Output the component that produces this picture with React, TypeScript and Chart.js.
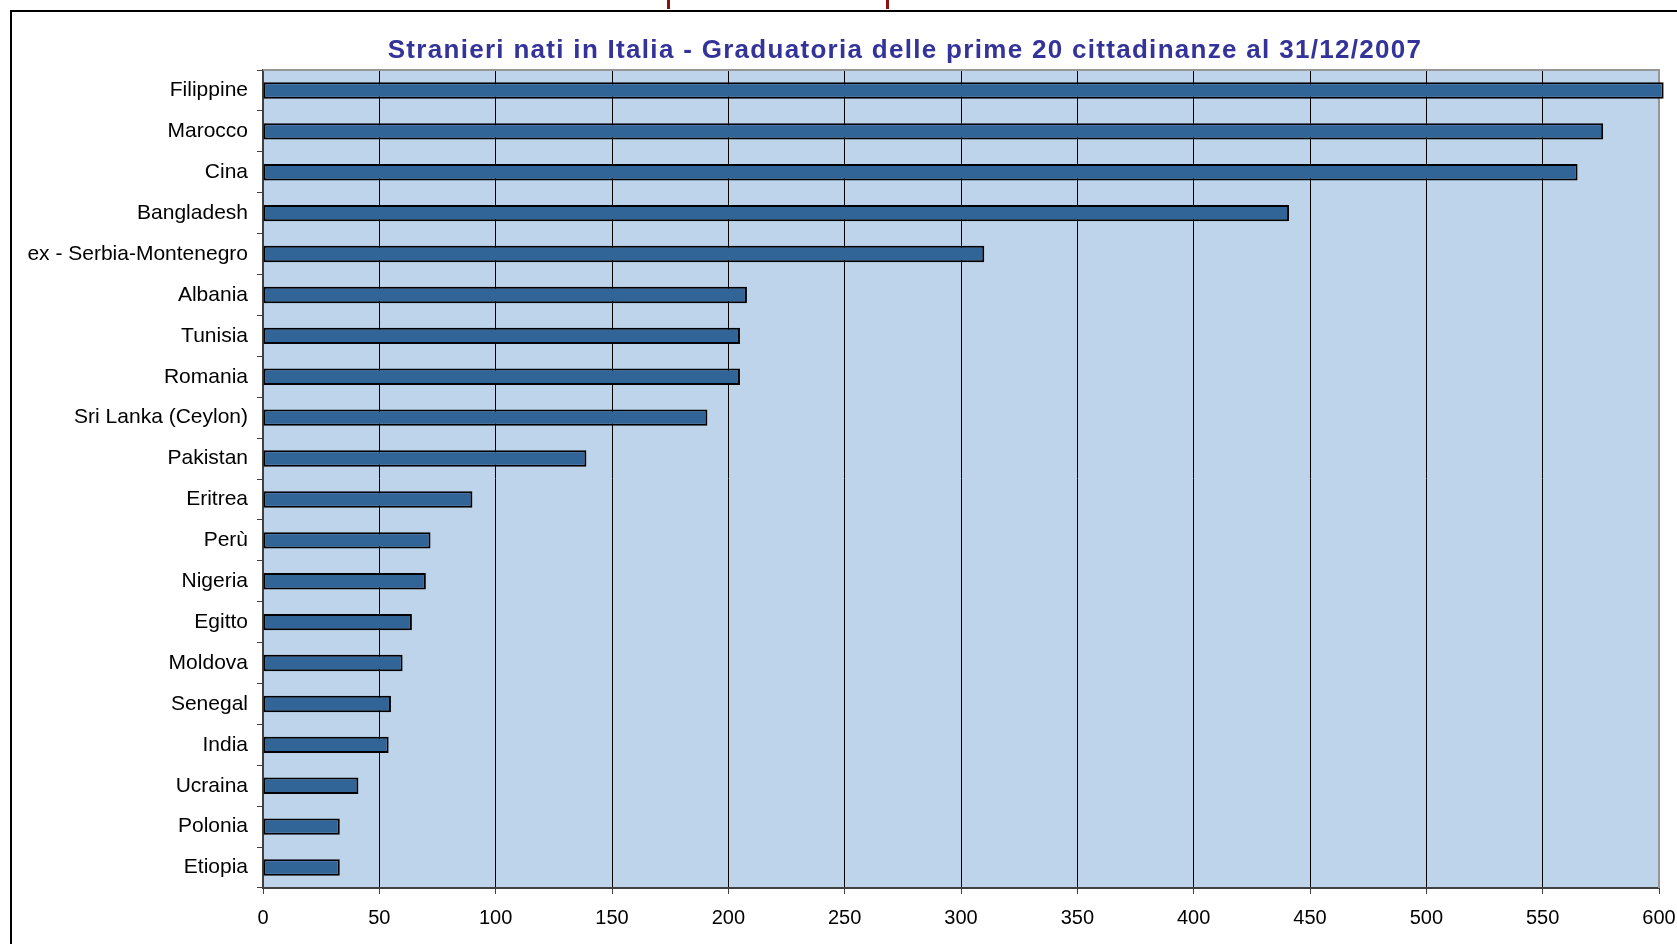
import React, { useEffect, useRef } from "react";
import { Chart, registerables } from "chart.js";

Chart.register(...registerables);

const categories = [
  "Filippine",
  "Marocco",
  "Cina",
  "Bangladesh",
  "ex - Serbia-Montenegro",
  "Albania",
  "Tunisia",
  "Romania",
  "Sri Lanka (Ceylon)",
  "Pakistan",
  "Eritrea",
  "Perù",
  "Nigeria",
  "Egitto",
  "Moldova",
  "Senegal",
  "India",
  "Ucraina",
  "Polonia",
  "Etiopia",
];

const values = [602, 576, 565, 441, 310, 208, 205, 205, 191, 139, 90, 72, 70, 64, 60, 55, 54, 41, 33, 33];

const xTicks = [0, 50, 100, 150, 200, 250, 300, 350, 400, 450, 500, 550, 600];

const titleText = "Stranieri nati in Italia - Graduatoria delle prime 20 cittadinanze al 31/12/2007";

const plotFrame = {
  id: "plotFrame",
  beforeDraw(chart: any) {
    const { ctx, chartArea } = chart;
    ctx.save();
    ctx.fillStyle = "#BDD4EA";
    ctx.fillRect(chartArea.left, chartArea.top, chartArea.right - chartArea.left, chartArea.bottom - chartArea.top);
    ctx.restore();
  },
  beforeDatasetsDraw(chart: any) {
    const { ctx, chartArea } = chart;
    ctx.save();
    ctx.strokeStyle = "#969696";
    ctx.lineWidth = 2;
    ctx.beginPath();
    ctx.moveTo(chartArea.left, chartArea.top);
    ctx.lineTo(chartArea.right, chartArea.top);
    ctx.lineTo(chartArea.right, chartArea.bottom);
    ctx.stroke();
    ctx.restore();
  },
};

export default function App() {
  const canvasRef = useRef<HTMLCanvasElement | null>(null);

  useEffect(() => {
    if (!canvasRef.current) return;
    const chart = new Chart(canvasRef.current, {
      type: "bar",
      data: {
        labels: categories,
        datasets: [
          {
            data: values,
            backgroundColor: "#316598",
            borderColor: "#000000",
            borderWidth: 2,
            borderSkipped: false,
            barPercentage: 0.4,
            categoryPercentage: 1,
            clip: false as any,
          },
        ],
      },
      options: {
        indexAxis: "y",
        animation: false,
        responsive: false,
        maintainAspectRatio: false,
        layout: { padding: { top: 70, right: 18, bottom: 0, left: 0 } },
        plugins: {
          legend: { display: false },
          title: { display: false },
          tooltip: { enabled: false },
        },
        scales: {
          x: {
            type: "linear",
            min: 0,
            max: 600,
            afterBuildTicks: (axis: any) => {
              axis.ticks = xTicks.map((v) => ({ value: v }));
            },
            afterFit: (axis: any) => {
              axis.height = 56;
              axis.paddingLeft = 0;
              axis.paddingRight = 0;
            },
            ticks: {
              color: "#000",
              font: { family: "'Liberation Sans', Arial, sans-serif", size: 20 },
              padding: 12,
              maxRotation: 0,
            },
            grid: {
              color: "#000",
              lineWidth: 1,
              drawTicks: true,
              tickLength: 6,
              tickColor: "#404040",
            },
            border: { color: "#404040", width: 2 },
          },
          y: {
            type: "category",
            offset: true,
            afterFit: (axis: any) => {
              axis.width = 263;
              axis.paddingTop = 0;
              axis.paddingBottom = 0;
            },
            ticks: {
              color: "#000",
              font: { family: "'Liberation Sans', Arial, sans-serif", size: 21 },
              padding: 9,
              autoSkip: false,
            },
            grid: {
              offset: true,
              drawOnChartArea: false,
              drawTicks: true,
              tickLength: 6,
              tickColor: "#404040",
            },
            border: { color: "#404040", width: 2 },
          },
        },
      },
      plugins: [plotFrame],
    } as any);
    return () => chart.destroy();
  }, []);

  return (
    <div
      style={{
        position: "absolute",
        top: 0,
        left: 0,
        width: 1677,
        height: 944,
        overflow: "hidden",
        background: "#fff",
      }}
    >
      <div
        style={{
          position: "absolute",
          left: 10,
          top: 10,
          width: 2000,
          height: 2000,
          borderLeft: "2px solid #000",
          borderTop: "2px solid #000",
        }}
      />
      <div style={{ position: "absolute", left: 667, top: 0, width: 3, height: 9, background: "#8B1010" }} />
      <div style={{ position: "absolute", left: 886, top: 0, width: 3, height: 9, background: "#8B1010" }} />
      <canvas ref={canvasRef} width={1677} height={944} style={{ position: "absolute", left: 0, top: 0 }} />
      <div
        style={{
          position: "absolute",
          left: 305,
          top: 32,
          width: 1200,
          textAlign: "center",
          fontFamily: "'Liberation Sans', Arial, sans-serif",
          fontWeight: "bold",
          fontSize: 26,
          letterSpacing: "1.3px",
          lineHeight: "34px",
          color: "#333399",
          whiteSpace: "nowrap",
        }}
      >
        {titleText}
      </div>
    </div>
  );
}
